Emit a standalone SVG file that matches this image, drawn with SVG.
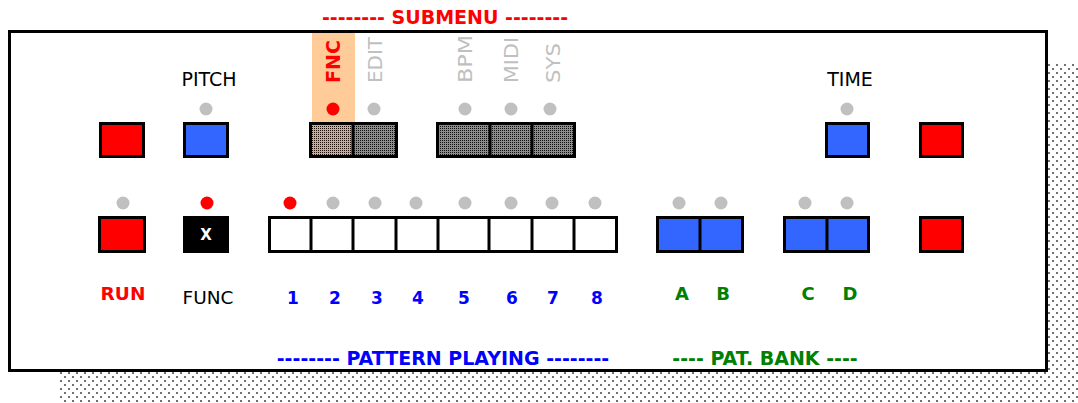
<svg xmlns="http://www.w3.org/2000/svg" width="1078" height="403" viewBox="0 0 1078 403">
<defs>
<pattern id="shadowDots" x="0" y="0" width="8" height="8" patternUnits="userSpaceOnUse">
<rect x="0" y="0" width="2" height="2" fill="#707070"/>
<rect x="4" y="4" width="2" height="2" fill="#707070"/>
</pattern>
<pattern id="grayDither" x="0" y="0" width="2" height="2" patternUnits="userSpaceOnUse">
<rect width="2" height="2" fill="#8c8c8c"/>
<rect width="1" height="1" fill="#101010"/>
</pattern>
<pattern id="peachDither" x="0" y="0" width="2" height="2" patternUnits="userSpaceOnUse">
<rect width="2" height="2" fill="#d8a878"/>
<rect width="1" height="1" fill="#201008"/>
</pattern>
<style>
.btn{stroke:#000;stroke-width:3}
.red{fill:#ff0000}
.blue{fill:#3366ff}
.white{fill:#ffffff}
.div{stroke:#000;stroke-width:3}
.led{fill:#c0c0c0}
.ledon{fill:#ff0000}
.lbl{font-family:"DejaVu Sans",sans-serif;font-size:19px;fill:#000;text-anchor:middle}
.b{font-family:"DejaVu Sans",sans-serif;font-weight:bold;text-anchor:middle}
.num{font-size:17px;fill:#0000ff}
.bank{font-size:18px;fill:#008000}
.vert{font-family:"DejaVu Sans",sans-serif;font-size:19px;fill:#c0c0c0}
</style>
</defs>

<g id="background">
<rect x="60" y="63" width="1018" height="340" fill="url(#shadowDots)"/>
<rect id="frame" x="9.5" y="31.5" width="1037" height="339" fill="#fff" stroke="#000" stroke-width="3"/>
<rect id="fnc-highlight" x="312" y="33" width="43" height="89" fill="#ffcc99"/>
</g>

<g id="headers">
<text class="b" x="445" y="24" font-size="19" fill="#ff0000">-------- SUBMENU --------</text>
<text class="b" x="443" y="365" font-size="19" fill="#0000ff">-------- PATTERN PLAYING --------</text>
<text class="b" x="765" y="365" font-size="19" fill="#008000">---- PAT. BANK ----</text>
</g>

<g id="top-labels">
<text class="lbl" x="209" y="86">PITCH</text>
<text class="lbl" x="850" y="86">TIME</text>
<text class="b" transform="translate(340,83) rotate(-90)" font-size="19" fill="#ff0000" style="text-anchor:start">FNC</text>
<text class="vert" transform="translate(381.5,83) rotate(-90)" textLength="46" lengthAdjust="spacingAndGlyphs">EDIT</text>
<text class="vert" transform="translate(471.5,83) rotate(-90)" textLength="48" lengthAdjust="spacingAndGlyphs">BPM</text>
<text class="vert" transform="translate(518,83) rotate(-90)" textLength="46" lengthAdjust="spacingAndGlyphs">MIDI</text>
<text class="vert" transform="translate(560,83) rotate(-90)" textLength="40" lengthAdjust="spacingAndGlyphs">SYS</text>
</g>

<g id="top-leds">
<circle class="led" cx="206" cy="109" r="6.5"/>
<circle class="ledon" cx="333" cy="109" r="6.5"/>
<circle class="led" cx="374" cy="109" r="6.5"/>
<circle class="led" cx="465" cy="109" r="6.5"/>
<circle class="led" cx="511" cy="109" r="6.5"/>
<circle class="led" cx="550" cy="109" r="6.5"/>
<circle class="led" cx="847" cy="109" r="6.5"/>
</g>

<g id="btn-top-left-red"><rect class="btn red" x="100.5" y="123.5" width="43" height="33"/></g>
<g id="btn-pitch"><rect class="btn blue" x="184.5" y="123.5" width="43" height="33"/></g>
<g id="btn-submenu-1">
<rect x="310.5" y="123.5" width="43" height="33" fill="url(#peachDither)"/>
<rect x="353.5" y="123.5" width="43" height="33" fill="url(#grayDither)"/>
<rect x="310.5" y="123.5" width="86" height="33" fill="none" class="btn"/>
<line class="div" x1="353" y1="122" x2="353" y2="158"/>
</g>
<g id="btn-submenu-2">
<rect x="437.5" y="123.5" width="137" height="33" fill="url(#grayDither)"/>
<rect x="437.5" y="123.5" width="137" height="33" fill="none" class="btn"/>
<line class="div" x1="490" y1="122" x2="490" y2="158"/>
<line class="div" x1="532" y1="122" x2="532" y2="158"/>
</g>
<g id="btn-time"><rect class="btn blue" x="826.5" y="123.5" width="42" height="33"/></g>
<g id="btn-top-right-red"><rect class="btn red" x="920.5" y="123.5" width="42" height="33"/></g>

<g id="bottom-leds">
<circle class="led" cx="123" cy="203" r="6.5"/>
<circle class="ledon" cx="207" cy="203" r="6.5"/>
<circle class="ledon" cx="290" cy="203" r="6.5"/>
<circle class="led" cx="333" cy="203" r="6.5"/>
<circle class="led" cx="375" cy="203" r="6.5"/>
<circle class="led" cx="416" cy="203" r="6.5"/>
<circle class="led" cx="465" cy="203" r="6.5"/>
<circle class="led" cx="511" cy="203" r="6.5"/>
<circle class="led" cx="552" cy="203" r="6.5"/>
<circle class="led" cx="595" cy="203" r="6.5"/>
<circle class="led" cx="679" cy="203" r="6.5"/>
<circle class="led" cx="721" cy="203" r="6.5"/>
<circle class="led" cx="805" cy="203" r="6.5"/>
<circle class="led" cx="847" cy="203" r="6.5"/>
</g>

<g id="btn-run"><rect class="btn red" x="99.5" y="217.5" width="45" height="34"/></g>
<g id="btn-func">
<rect class="btn" fill="#000" x="184.5" y="217.5" width="43" height="34"/>
<text class="b" x="206" y="240" font-size="15" fill="#fff">X</text>
</g>
<g id="btn-patterns">
<rect class="btn white" x="269.5" y="217.5" width="347" height="34"/>
<line class="div" x1="311" y1="216" x2="311" y2="253"/>
<line class="div" x1="353" y1="216" x2="353" y2="253"/>
<line class="div" x1="396" y1="216" x2="396" y2="253"/>
<line class="div" x1="438" y1="216" x2="438" y2="253"/>
<line class="div" x1="489" y1="216" x2="489" y2="253"/>
<line class="div" x1="532" y1="216" x2="532" y2="253"/>
<line class="div" x1="574" y1="216" x2="574" y2="253"/>
</g>
<g id="btn-bank-ab">
<rect class="btn blue" x="657.5" y="217.5" width="85" height="34"/>
<line class="div" x1="700" y1="216" x2="700" y2="253"/>
</g>
<g id="btn-bank-cd">
<rect class="btn blue" x="784.5" y="217.5" width="84" height="34"/>
<line class="div" x1="827" y1="216" x2="827" y2="253"/>
</g>
<g id="btn-bottom-right-red"><rect class="btn red" x="920.5" y="217.5" width="42" height="34"/></g>

<g id="bottom-labels">
<text class="b" x="123" y="300" font-size="18.5" fill="#ff0000">RUN</text>
<text class="lbl" x="208" y="304" style="font-size:18.5px">FUNC</text>
<text class="b num" x="293" y="304">1</text>
<text class="b num" x="335" y="304">2</text>
<text class="b num" x="377" y="304">3</text>
<text class="b num" x="418" y="304">4</text>
<text class="b num" x="464" y="304">5</text>
<text class="b num" x="512" y="304">6</text>
<text class="b num" x="553" y="304">7</text>
<text class="b num" x="597" y="304">8</text>
<text class="b bank" x="682" y="300">A</text>
<text class="b bank" x="723" y="300">B</text>
<text class="b bank" x="808" y="300">C</text>
<text class="b bank" x="850" y="300">D</text>
</g>
</svg>
